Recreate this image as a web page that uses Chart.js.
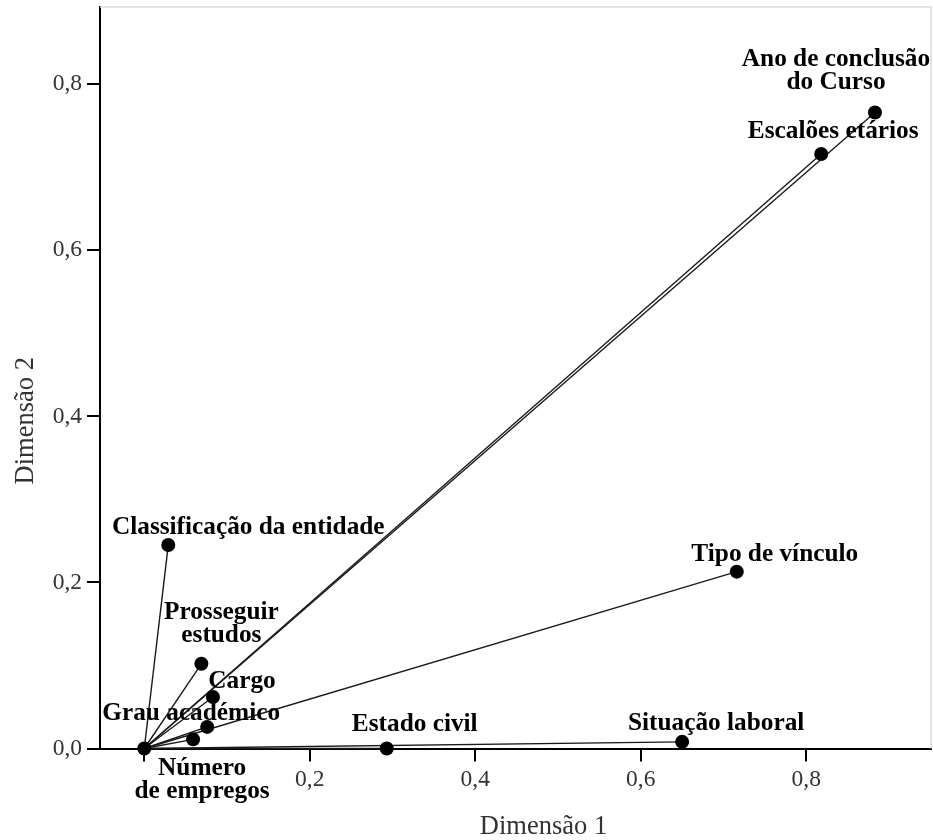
<!DOCTYPE html>
<html>
<head>
<meta charset="utf-8">
<title>Medidas de discriminação</title>
<script src="https://cdn.jsdelivr.net/npm/chart.js@4.4.1/dist/chart.umd.min.js"></script>
<style>
  html, body { margin: 0; padding: 0; background: #fff; }
  #wrap { width: 933px; height: 840px; }
</style>
</head>
<body>
<div id="wrap"><canvas id="chart" width="933" height="840"></canvas></div>
<script>
// Discrimination measures per variable (Dimensão 1, Dimensão 2)
const variables = [
  'Ano de conclusão do Curso',
  'Escalões etários',
  'Classificação da entidade',
  'Tipo de vínculo',
  'Prosseguir estudos',
  'Cargo',
  'Grau académico',
  'Número de empregos',
  'Estado civil',
  'Situação laboral'
];
const dimensao1 = [0.883, 0.818, 0.029, 0.716, 0.069, 0.083, 0.076, 0.059, 0.293, 0.650];
const dimensao2 = [0.766, 0.716, 0.245, 0.213, 0.102, 0.062, 0.026, 0.011, 0.000, 0.008];
const tickValues = [0, 0.2, 0.4, 0.6, 0.8];
const axisTitles = ['Dimensão 1', 'Dimensão 2'];

// How each label is broken into lines and where it sits relative to its point (px)
const labelPlacement = {
  'Ano de conclusão do Curso': { lines: ['Ano de conclusão', 'do Curso'], dx: -39, dy: -46 },
  'Escalões etários':          { lines: ['Escalões etários'], dx: 12, dy: -16 },
  'Classificação da entidade': { lines: ['Classificação da entidade'], dx: 80, dy: -11 },
  'Tipo de vínculo':           { lines: ['Tipo de vínculo'], dx: 38, dy: -11 },
  'Prosseguir estudos':        { lines: ['Prosseguir', 'estudos'], dx: 20, dy: -45 },
  'Cargo':                     { lines: ['Cargo'], dx: 29, dy: -9 },
  'Grau académico':            { lines: ['Grau académico'], dx: -16, dy: -7 },
  'Número de empregos':        { lines: ['Número', 'de empregos'], dx: 9, dy: 36 },
  'Estado civil':              { lines: ['Estado civil'], dx: 28, dy: -18 },
  'Situação laboral':          { lines: ['Situação laboral'], dx: 34, dy: -12 }
};

const SERIF = "'Liberation Serif', 'Times New Roman', serif";
const fmt = v => v.toFixed(1).replace('.', ',');

// One segment from the origin to each variable's point
const vectorSets = variables.map((name, i) => ({
  type: 'line',
  label: name,
  data: [{ x: 0, y: 0 }, { x: dimensao1[i], y: dimensao2[i] }],
  borderColor: '#1a1a1a',
  borderWidth: 1.4,
  pointRadius: 0,
  fill: false,
  clip: false,
  order: 2
}));

const pointSet = {
  type: 'scatter',
  label: 'pontos',
  data: [{ x: 0, y: 0 }].concat(variables.map((n, i) => ({ x: dimensao1[i], y: dimensao2[i] }))),
  backgroundColor: '#000',
  borderColor: '#000',
  borderWidth: 0,
  pointRadius: 7,
  clip: false,
  order: 1
};

const decorations = {
  id: 'decorations',
  beforeDatasetsDraw(chart) {
    const { ctx, chartArea: a } = chart;
    ctx.save();
    ctx.strokeStyle = '#dcdcdc';
    ctx.lineWidth = 1.5;
    ctx.beginPath();
    ctx.moveTo(a.left, a.top);
    ctx.lineTo(a.right, a.top);
    ctx.lineTo(a.right, a.bottom);
    ctx.stroke();
    ctx.restore();
  },
  afterDatasetsDraw(chart) {
    const { ctx, chartArea: a, scales } = chart;
    ctx.save();
    // variable labels
    ctx.fillStyle = '#000';
    ctx.font = 'bold 25.3px ' + SERIF;
    ctx.textAlign = 'center';
    ctx.textBaseline = 'alphabetic';
    variables.forEach((name, i) => {
      const p = labelPlacement[name];
      const px = scales.x.getPixelForValue(dimensao1[i]);
      const py = scales.y.getPixelForValue(dimensao2[i]);
      p.lines.forEach((line, k) => {
        ctx.fillText(line, px + p.dx, py + p.dy + k * 23);
      });
    });
    // axis titles
    ctx.fillStyle = '#333';
    ctx.font = '26.5px ' + SERIF;
    ctx.fillText(axisTitles[0], (a.left + a.right) / 2 + 28, chart.height - 6);
    ctx.translate(33, (a.top + a.bottom) / 2 + 43);
    ctx.rotate(-Math.PI / 2);
    ctx.fillText(axisTitles[1], 0, 0);
    ctx.restore();
  }
};

const setTicks = scale => { scale.ticks = tickValues.map(v => ({ value: v })); };

new Chart(document.getElementById('chart'), {
  data: { datasets: vectorSets.concat([pointSet]) },
  options: {
    responsive: false,
    devicePixelRatio: 1,
    animation: false,
    layout: { autoPadding: false, padding: { top: 7, right: 2, left: 0, bottom: 0 } },
    plugins: { legend: { display: false }, tooltip: { enabled: false } },
    scales: {
      x: {
        type: 'linear',
        min: -0.0535,
        max: 0.9507,
        afterBuildTicks: setTicks,
        afterFit: s => { s.height = 91.5; s.paddingLeft = 0; s.paddingRight = 0; },
        border: { display: true, color: '#000', width: 2 },
        grid: { display: true, drawOnChartArea: false, drawTicks: true, tickLength: 13, color: '#000', lineWidth: 2 },
        ticks: {
          color: '#333',
          padding: 4,
          font: { family: SERIF, size: 23.5 },
          callback: v => (v === 0 ? '' : fmt(v))
        }
      },
      y: {
        type: 'linear',
        min: 0,
        max: 0.893,
        afterBuildTicks: setTicks,
        afterFit: s => { s.width = 100; s.paddingTop = 0; s.paddingBottom = 0; },
        border: { display: true, color: '#000', width: 2 },
        grid: { display: true, drawOnChartArea: false, drawTicks: true, tickLength: 13, color: '#000', lineWidth: 2 },
        ticks: {
          color: '#333',
          padding: 5,
          font: { family: SERIF, size: 23.5 },
          callback: v => fmt(v)
        }
      }
    }
  },
  plugins: [decorations]
});
</script>
</body>
</html>
